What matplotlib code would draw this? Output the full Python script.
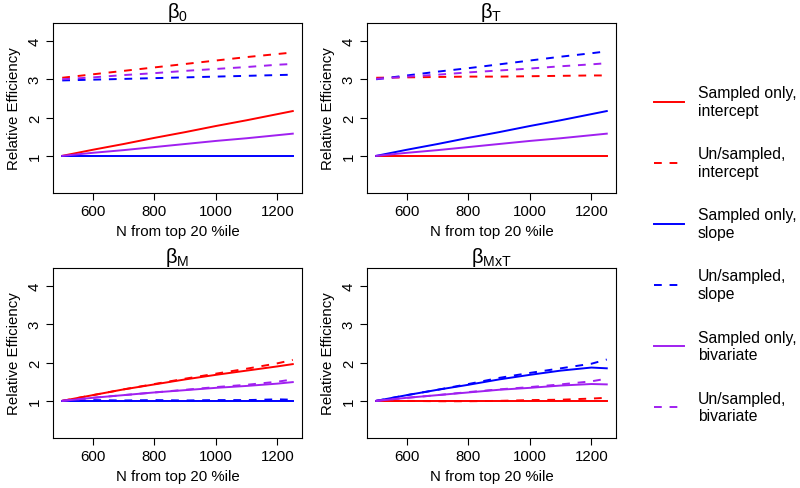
import matplotlib
matplotlib.use("Agg")
import matplotlib.pyplot as plt
from matplotlib.lines import Line2D

plt.rcParams['font.family'] = ['Liberation Sans', 'DejaVu Sans']
plt.rcParams['mathtext.fontset'] = 'custom'
plt.rcParams['mathtext.rm'] = 'Liberation Sans'
plt.rcParams['mathtext.it'] = 'Liberation Sans'

# ---- data ----
N = [500, 600, 700, 800, 900, 1000, 1100, 1200, 1250]

titles = [r'$\mathregular{\beta_{0}}$', r'$\mathregular{\beta_{T}}$',
          r'$\mathregular{\beta_{M}}$', r'$\mathregular{\beta_{MxT}}$']

series_names = ["Sampled only,\nintercept", "Un/sampled,\nintercept",
                "Sampled only,\nslope", "Un/sampled,\nslope",
                "Sampled only,\nbivariate", "Un/sampled,\nbivariate"]

# beta_0
b0_samp_int = [1.00, 1.16, 1.31, 1.47, 1.62, 1.78, 1.93, 2.09, 2.17]
b0_un_int   = [3.04, 3.13, 3.22, 3.31, 3.40, 3.49, 3.58, 3.66, 3.70]
b0_samp_slp = [1.00, 1.00, 1.00, 1.00, 1.00, 1.00, 1.00, 1.00, 1.00]
b0_un_slp   = [2.97, 2.99, 3.01, 3.03, 3.05, 3.07, 3.09, 3.11, 3.12]
b0_samp_biv = [1.00, 1.08, 1.15, 1.23, 1.31, 1.39, 1.46, 1.54, 1.58]
b0_un_biv   = [3.00, 3.05, 3.11, 3.16, 3.22, 3.27, 3.32, 3.38, 3.40]

# beta_T
bT_samp_int = [1.00, 1.00, 1.00, 1.00, 1.00, 1.00, 1.00, 1.00, 1.00]
bT_un_int   = [3.04, 3.05, 3.06, 3.07, 3.07, 3.08, 3.09, 3.10, 3.10]
bT_samp_slp = [1.00, 1.16, 1.31, 1.47, 1.62, 1.78, 1.93, 2.09, 2.17]
bT_un_slp   = [3.00, 3.10, 3.20, 3.29, 3.39, 3.49, 3.59, 3.68, 3.73]
bT_samp_biv = [1.00, 1.08, 1.15, 1.23, 1.31, 1.39, 1.46, 1.54, 1.58]
bT_un_biv   = [3.01, 3.07, 3.12, 3.18, 3.23, 3.28, 3.34, 3.39, 3.42]

# beta_M
bM_samp_int = [1.00, 1.15, 1.30, 1.43, 1.56, 1.68, 1.79, 1.90, 1.96]
bM_un_int   = [1.00, 1.15, 1.30, 1.44, 1.58, 1.71, 1.84, 1.98, 2.07]
bM_samp_slp = [1.00, 1.00, 1.00, 1.00, 1.00, 1.00, 1.00, 1.00, 1.00]
bM_un_slp   = [1.00, 1.02, 1.01, 1.02, 1.01, 1.02, 1.02, 1.04, 1.03]
bM_samp_biv = [1.00, 1.08, 1.15, 1.22, 1.28, 1.34, 1.39, 1.45, 1.49]
bM_un_biv   = [1.00, 1.08, 1.15, 1.22, 1.29, 1.36, 1.42, 1.50, 1.56]

# beta_MxT
bX_samp_int = [1.00, 1.00, 1.00, 1.00, 1.00, 1.00, 1.00, 1.00, 1.00]
bX_un_int   = [1.00, 1.00, 0.99, 0.99, 1.00, 1.02, 1.03, 1.06, 1.08]
bX_samp_slp = [1.00, 1.15, 1.29, 1.42, 1.56, 1.68, 1.79, 1.87, 1.85]
bX_un_slp   = [1.00, 1.15, 1.29, 1.44, 1.60, 1.73, 1.85, 1.97, 2.08]
bX_samp_biv = [1.00, 1.08, 1.15, 1.22, 1.29, 1.34, 1.40, 1.44, 1.43]
bX_un_biv   = [1.00, 1.08, 1.15, 1.23, 1.30, 1.36, 1.43, 1.51, 1.58]

panels = [
    [b0_samp_int, b0_un_int, b0_samp_slp, b0_un_slp, b0_samp_biv, b0_un_biv],
    [bT_samp_int, bT_un_int, bT_samp_slp, bT_un_slp, bT_samp_biv, bT_un_biv],
    [bM_samp_int, bM_un_int, bM_samp_slp, bM_un_slp, bM_samp_biv, bM_un_biv],
    [bX_samp_int, bX_un_int, bX_samp_slp, bX_un_slp, bX_samp_biv, bX_un_biv],
]

colors = ['#FF0000', '#FF0000', '#0000FF', '#0000FF', '#A020F0', '#A020F0']
styles = ['-', (0, (4, 4)), '-', (0, (4, 4)), '-', (0, (4, 4))]

W, H = 800, 489
fig = plt.figure(figsize=(W / 100, H / 100), dpi=100)

boxes = [(53, 24, 302, 194), (367, 24, 616, 194),
         (53, 269, 302, 439), (367, 269, 616, 439)]

for p, (x0, y0, x1, y1) in enumerate(boxes):
    ax = fig.add_axes([x0 / W, 1 - y1 / H, (x1 - x0) / W, (y1 - y0) / H])
    for s in range(6):
        ax.plot(N, panels[p][s], color=colors[s], linestyle=styles[s], lw=1.4)
    ax.set_xlim(470, 1280)
    ax.set_ylim(0.03, 4.47)
    ax.set_xticks([600, 800, 1000, 1200])
    ax.set_yticks([1, 2, 3, 4])
    ax.tick_params(axis='both', labelsize=10.8, length=5, width=0.8, pad=3)
    for lab in ax.get_yticklabels():
        lab.set_rotation(90)
        lab.set_va('center')
    ax.set_xlabel('N from top 20 %ile', fontsize=10.8, labelpad=4)
    ax.set_ylabel('Relative Efficiency', fontsize=10.8, labelpad=5)
    ax.set_title(titles[p], fontsize=14.5, pad=2)
    for sp in ax.spines.values():
        sp.set_linewidth(0.8)

handles = [Line2D([], [], color=colors[s], linestyle=styles[s], lw=1.4)
           for s in range(6)]
fig.legend(handles, series_names, loc='upper left',
           bbox_to_anchor=(640 / W, 1 - 72 / H), frameon=False,
           fontsize=11.3, handlelength=1.9, handletextpad=0.9,
           labelspacing=1.83)

fig.savefig('out.png', dpi=100)
